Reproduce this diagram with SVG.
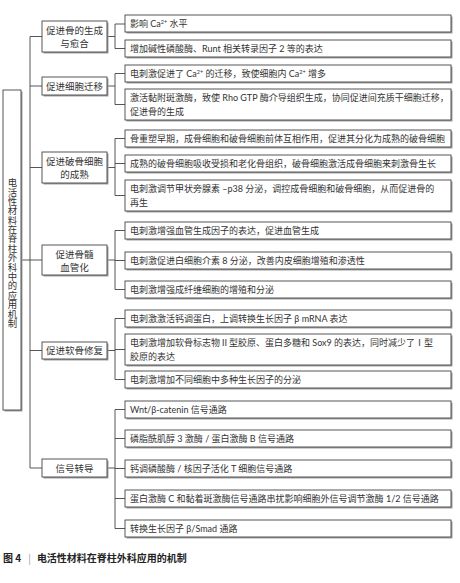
<svg xmlns="http://www.w3.org/2000/svg" width="460" height="583" viewBox="0 0 460 583">
<style>
text{font-family:"Lato","Noto Sans CJK SC",sans-serif;fill:#333;}
.t2{font-size:9px;}
.t1{font-size:9.5px;text-anchor:middle;}
.tr{font-size:9.4px;text-anchor:middle;writing-mode:vertical-rl;}
.box{fill:#fff;stroke:#444;stroke-width:0.9;}
.sh{fill:#a0a0a0;}
.ln{fill:none;stroke:#444;stroke-width:0.9;}
.sup{font-size:5.5px;}
.cap{font-size:10px;fill:#222;font-family:"Noto Sans CJK SC",sans-serif;font-weight:bold;}
</style>
<rect width="460" height="583" fill="#fff"/>
<g id="connectors">
<path class="ln" d="M21,260H30M30,36.5V468"/>
<path class="ln" d="M30,36.5H42M30,86H42M30,167.5H42M30,260H42M30,350.5H42M30,468H42"/>
<path class="ln" d="M107,36.5H115M115,24V48.5M115,24H125M115,48.5H125"/>
<path class="ln" d="M107,86H115M115,73.5V104.5M115,73.5H125M115,104.5H125"/>
<path class="ln" d="M107,167.5H115M115,138.5V195.5M115,138.5H125M115,163.5H125M115,195.5H125"/>
<path class="ln" d="M107,260H115M115,230.5V289.5M115,230.5H125M115,260.5H125M115,289.5H125"/>
<path class="ln" d="M107,350.5H115M115,318.5V379.5M115,318.5H125M115,349.5H125M115,379.5H125"/>
<path class="ln" d="M107,468H115M115,409.5V528.5M115,409.5H125M115,438.5H125M115,468.5H125M115,498.5H125M115,528.5H125"/>
</g>
<g id="root">
<rect class="sh" x="4.5" y="91.5" width="18" height="320"/>
<rect class="box" x="3" y="90" width="18" height="320"/>
<text class="tr" x="12" y="253">电活性材料在脊柱外科中的应用机制</text>
</g>
<g id="n1">
<rect class="sh" x="43.5" y="22.5" width="65" height="31"/>
<rect class="box" x="42" y="21" width="65" height="31"/>
<text class="t1" x="74.5" y="34">促进骨的生成</text>
<text class="t1" x="74.5" y="47">与愈合</text>
</g>
<g id="n2">
<rect class="sh" x="43.5" y="78.5" width="65" height="18"/>
<rect class="box" x="42" y="77" width="65" height="18"/>
<text class="t1" x="74.5" y="89.5">促进细胞迁移</text>
</g>
<g id="n3">
<rect class="sh" x="43.5" y="153.5" width="65" height="31"/>
<rect class="box" x="42" y="152" width="65" height="31"/>
<text class="t1" x="74.5" y="165">促进破骨细胞</text>
<text class="t1" x="74.5" y="178">的成熟</text>
</g>
<g id="n4">
<rect class="sh" x="43.5" y="246.5" width="65" height="30"/>
<rect class="box" x="42" y="245" width="65" height="30"/>
<text class="t1" x="74.5" y="258">促进骨髓</text>
<text class="t1" x="74.5" y="271">血管化</text>
</g>
<g id="n5">
<rect class="sh" x="43.5" y="343.5" width="65" height="17"/>
<rect class="box" x="42" y="342" width="65" height="17"/>
<text class="t1" x="74.5" y="354">促进软骨修复</text>
</g>
<g id="n6">
<rect class="sh" x="43.5" y="460.5" width="65" height="18"/>
<rect class="box" x="42" y="459" width="65" height="18"/>
<text class="t1" x="74.5" y="471.5">信号转导</text>
</g>
<g id="a">
<rect class="sh" x="126.5" y="16.5" width="326" height="17"/>
<rect class="box" x="125" y="15" width="326" height="17"/>
<text class="t2" x="130" y="27">影响 Ca<tspan class="sup" dy="-3.5">2+</tspan><tspan dy="3.5"> 水平</tspan></text>
</g>
<g id="b">
<rect class="sh" x="126.5" y="41.5" width="326" height="17"/>
<rect class="box" x="125" y="40" width="326" height="17"/>
<text class="t2" x="130" y="52">增加碱性磷酸酶、Runt 相关转录因子 2 等的表达</text>
</g>
<g id="c">
<rect class="sh" x="126.5" y="66.5" width="326" height="17"/>
<rect class="box" x="125" y="65" width="326" height="17"/>
<text class="t2" x="130" y="77">电刺激促进了 Ca<tspan class="sup" dy="-3.5">2+</tspan><tspan dy="3.5"> 的迁移，致使细胞内 Ca</tspan><tspan class="sup" dy="-3.5">2+</tspan><tspan dy="3.5"> 增多</tspan></text>
</g>
<g id="d">
<rect class="sh" x="126.5" y="90.5" width="326" height="31"/>
<rect class="box" x="125" y="89" width="326" height="31"/>
<text class="t2" x="130" y="101">激活黏附斑激酶，致使 Rho GTP 酶介导组织生成，协同促进间充质干细胞迁移，</text>
<text class="t2" x="130" y="115">促进骨的生成</text>
</g>
<g id="e">
<rect class="sh" x="126.5" y="131.5" width="326" height="17"/>
<rect class="box" x="125" y="130" width="326" height="17"/>
<text class="t2" x="130" y="142">骨重塑早期，成骨细胞和破骨细胞前体互相作用，促进其分化为成熟的破骨细胞</text>
</g>
<g id="f">
<rect class="sh" x="126.5" y="156.5" width="326" height="17"/>
<rect class="box" x="125" y="155" width="326" height="17"/>
<text class="t2" x="130" y="167">成熟的破骨细胞吸收受损和老化骨组织，破骨细胞激活成骨细胞来刺激骨生长</text>
</g>
<g id="g">
<rect class="sh" x="126.5" y="181.5" width="326" height="31"/>
<rect class="box" x="125" y="180" width="326" height="31"/>
<text class="t2" x="130" y="192">电刺激调节甲状旁腺素 –p38 分泌，调控成骨细胞和破骨细胞，从而促进骨的</text>
<text class="t2" x="130" y="206">再生</text>
</g>
<g id="h">
<rect class="sh" x="126.5" y="223.5" width="326" height="17"/>
<rect class="box" x="125" y="222" width="326" height="17"/>
<text class="t2" x="130" y="234">电刺激增强血管生成因子的表达，促进血管生成</text>
</g>
<g id="i">
<rect class="sh" x="126.5" y="253.5" width="326" height="17"/>
<rect class="box" x="125" y="252" width="326" height="17"/>
<text class="t2" x="130" y="264">电刺激促进白细胞介素 8 分泌，改善内皮细胞增殖和渗透性</text>
</g>
<g id="j">
<rect class="sh" x="126.5" y="282.5" width="326" height="17"/>
<rect class="box" x="125" y="281" width="326" height="17"/>
<text class="t2" x="130" y="293">电刺激增强成纤维细胞的增殖和分泌</text>
</g>
<g id="k">
<rect class="sh" x="126.5" y="311.5" width="326" height="17"/>
<rect class="box" x="125" y="310" width="326" height="17"/>
<text class="t2" x="130" y="322">电刺激激活钙调蛋白，上调转换生长因子 β mRNA 表达</text>
</g>
<g id="l">
<rect class="sh" x="126.5" y="335.5" width="326" height="31"/>
<rect class="box" x="125" y="334" width="326" height="31"/>
<text class="t2" x="130" y="346">电刺激增加软骨标志物Ⅱ型胶原、蛋白多糖和 Sox9 的表达，同时减少了Ⅰ型</text>
<text class="t2" x="130" y="360">胶原的表达</text>
</g>
<g id="m">
<rect class="sh" x="126.5" y="372.5" width="326" height="17"/>
<rect class="box" x="125" y="371" width="326" height="17"/>
<text class="t2" x="130" y="383">电刺激增加不同细胞中多种生长因子的分泌</text>
</g>
<g id="n">
<rect class="sh" x="126.5" y="402.5" width="326" height="17"/>
<rect class="box" x="125" y="401" width="326" height="17"/>
<text class="t2" x="130" y="413">Wnt/β-catenin 信号通路</text>
</g>
<g id="o">
<rect class="sh" x="126.5" y="431.5" width="326" height="17"/>
<rect class="box" x="125" y="430" width="326" height="17"/>
<text class="t2" x="130" y="442">磷脂酰肌醇 3 激酶 / 蛋白激酶 B 信号通路</text>
</g>
<g id="p">
<rect class="sh" x="126.5" y="461.5" width="326" height="17"/>
<rect class="box" x="125" y="460" width="326" height="17"/>
<text class="t2" x="130" y="472">钙调磷酸酶 / 核因子活化 T 细胞信号通路</text>
</g>
<g id="q">
<rect class="sh" x="126.5" y="491.5" width="326" height="17"/>
<rect class="box" x="125" y="490" width="326" height="17"/>
<text class="t2" x="130" y="502">蛋白激酶 C 和黏着斑激酶信号通路串扰影响细胞外信号调节激酶 1/2 信号通路</text>
</g>
<g id="r">
<rect class="sh" x="126.5" y="521.5" width="326" height="17"/>
<rect class="box" x="125" y="520" width="326" height="17"/>
<text class="t2" x="130" y="532">转换生长因子 β/Smad 通路</text>
</g>
<g id="caption">
<text class="cap" x="3" y="562">图 4<tspan fill="#999" font-weight="normal" dx="7">|</tspan><tspan dx="6">电活性材料在脊柱外科应用的机制</tspan></text>
</g>
</svg>
